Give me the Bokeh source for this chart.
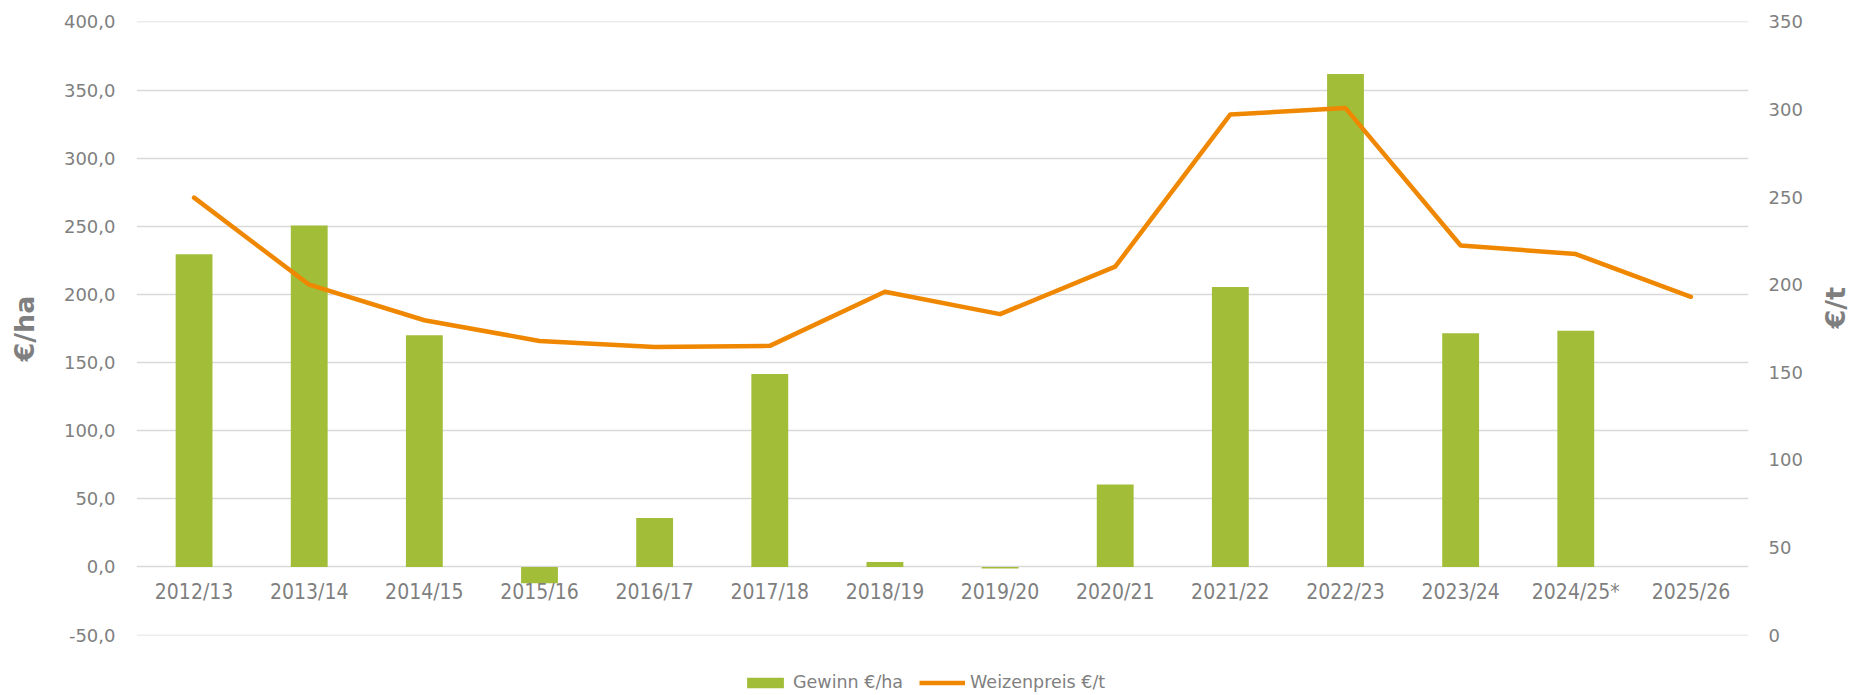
import math
from bokeh.plotting import figure
from bokeh.layouts import column
from bokeh.models import (Range1d, LinearAxis, FixedTicker, Legend, LegendItem,
                          ColumnDataSource, FactorRange)
from bokeh.core.properties import value
from bokeh.embed import file_html
from bokeh.resources import INLINE

# ---------------- data ----------------
categories = ["2012/13", "2013/14", "2014/15", "2015/16", "2016/17", "2017/18",
              "2018/19", "2019/20", "2020/21", "2021/22", "2022/23", "2023/24",
              "2024/25*", "2025/26"]
gewinn = [229.4, 250.5, 170.0, -12.0, 36.0, 141.6, 3.7, -1.2, 60.5, 205.5,
          361.8, 171.5, 173.3, None]
weizenpreis = [249.7, 200.0, 179.7, 167.9, 164.4, 165.1, 196.0, 183.2, 210.3,
               297.2, 300.8, 222.4, 217.5, 193.1]
left_ticks = [-50, 0, 50, 100, 150, 200, 250, 300, 350, 400]
left_tick_labels = ["-50,0", "0,0", "50,0", "100,0", "150,0", "200,0",
                    "250,0", "300,0", "350,0", "400,0"]
right_ticks = [0, 50, 100, 150, 200, 250, 300, 350]
right_tick_labels = ["0", "50", "100", "150", "200", "250", "300", "350"]
series_names = ["Gewinn €/ha", "Weizenpreis €/t"]

GREEN = "#A2BD38"
ORANGE = "#F08700"
GRAY = "#7F7F7F"
GRID = "#D9D9D9"
FONT = "DejaVu Sans"

bar_src = ColumnDataSource(dict(
    x=[c for c, g in zip(categories, gewinn) if g is not None],
    top=[g for g in gewinn if g is not None]))
line_src = ColumnDataSource(dict(x=categories, y=weizenpreis))

# small pad so the gridlines at -50 and 400 are drawn
pad = 0.3
p = figure(x_range=FactorRange(*categories), y_range=Range1d(-50 - pad, 400 + pad),
           width=1869, height=650, output_backend="svg", toolbar_location=None,
           min_border_left=136, min_border_right=117, min_border_top=21,
           min_border_bottom=15)
p.outline_line_color = None
p.background_fill_color = "white"
p.border_fill_color = "white"
p.extra_y_ranges = {"price": Range1d(-pad * 7 / 9, 350 + pad * 7 / 9)}

p.xaxis.visible = False
p.xgrid.visible = False
p.ygrid.ticker = FixedTicker(ticks=left_ticks)
p.ygrid.grid_line_color = GRID
p.ygrid.grid_line_width = 1.4

yl = p.yaxis[0]
yl.ticker = FixedTicker(ticks=left_ticks)
yl.major_label_overrides = {t: l for t, l in zip(left_ticks, left_tick_labels)}
yl.axis_label = "€/ha"

yr = LinearAxis(y_range_name="price", ticker=FixedTicker(ticks=right_ticks),
                axis_label="€/t")
yr.major_label_overrides = {t: l for t, l in zip(right_ticks, right_tick_labels)}
p.add_layout(yr, "right")

for ax, ls, als in ((yl, 21, 21), (yr, 20, 30)):
    ax.axis_line_color = None
    ax.major_tick_line_color = None
    ax.minor_tick_line_color = None
    ax.major_tick_out = 0
    ax.major_tick_in = 0
    ax.minor_tick_out = 0
    ax.minor_tick_in = 0
    ax.major_label_text_color = GRAY
    ax.major_label_text_font = FONT
    ax.major_label_text_font_size = "18px"
    ax.major_label_standoff = ls
    ax.axis_label_text_color = GRAY
    ax.axis_label_text_font = FONT
    ax.axis_label_text_font_style = "bold"
    ax.axis_label_text_font_size = "27px"
    ax.axis_label_standoff = als
yr.axis_label_orientation = math.pi / 2

bars = p.vbar(x="x", top="top", bottom=0, width=0.32, source=bar_src,
              fill_color=GREEN, line_color=None)
line = p.line(x="x", y="y", source=line_src, y_range_name="price",
              line_color=ORANGE, line_width=4.5, line_join="round",
              line_cap="round")

p.text(x=categories, y=0, text=categories, y_offset=25.5,
       text_align="center", text_baseline="middle",
       text_font=value("DejaVu Sans Condensed"), text_font_size="21px",
       text_color=GRAY)

# ---- legend strip below the chart (same series, scrolled out of view) ----
pl = figure(width=1869, height=45, output_backend="svg", toolbar_location=None,
            x_range=FactorRange(*categories), y_range=Range1d(1000, 1001),
            x_axis_type=None, y_axis_type=None, min_border=0)
pl.outline_line_color = None
pl.background_fill_color = "white"
pl.border_fill_color = "white"
pl.xgrid.visible = False
pl.ygrid.visible = False
lg_bar = pl.vbar(x="x", top="top", bottom=0, width=0.32, source=bar_src,
                 fill_color=GREEN, line_color=None)
lg_line = pl.line(x="x", y="y", source=line_src, line_color=ORANGE,
                  line_width=4.5)

legend = Legend(items=[LegendItem(label=series_names[0], renderers=[lg_bar]),
                       LegendItem(label=series_names[1], renderers=[lg_line])],
                orientation="horizontal", location=(606, 3),
                padding=0, margin=0, spacing=16, label_standoff=5,
                glyph_width=46, glyph_height=13, label_height=20,
                label_text_font=FONT, label_text_font_size="17.5px",
                label_text_color=GRAY, border_line_color=None,
                background_fill_alpha=0)
pl.add_layout(legend, "center")

layout = column(p, pl, spacing=0)
open("out.html", "w").write(file_html(layout, INLINE))
